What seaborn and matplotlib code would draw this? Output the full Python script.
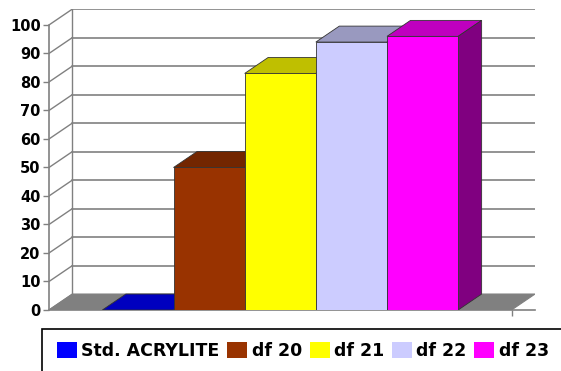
import numpy as np
import pandas as pd
import seaborn as sns
import matplotlib.pyplot as plt
from matplotlib.patches import Polygon, Rectangle, Patch
from matplotlib.colors import to_rgb

# chart data
series = ["Std. ACRYLITE", "df 20", "df 21", "df 22", "df 23"]
values = [0, 50, 83, 94, 96]
colors = ["#0000FF", "#993300", "#FFFF00", "#CCCCFF", "#FF00FF"]
yticks = list(range(0, 101, 10))

data = pd.DataFrame({"series": series, "value": values})

# fake 3d: depth offset (data units) and gap on each side of the bar group
DX = 0.33
DY = 5.6
GAP = 0.75
GRID = "#808080"
EDGE = "#333333"

sns.set_style("white")
plt.rcParams["font.family"] = ["DejaVu Sans"]
plt.rcParams["font.weight"] = "bold"
plt.rcParams["text.color"] = "black"
plt.rcParams["ytick.labelcolor"] = "black"

fig = plt.figure(figsize=(5.61, 3.71), dpi=100)
ax = fig.add_axes([49 / 561, 61 / 371, 486 / 561, 301 / 371])

x0 = -0.5 - GAP
x1 = len(series) - 0.5 + GAP

# floor
ax.add_patch(Polygon([(x0, 0), (x1, 0), (x1 + DX, DY), (x0 + DX, DY)],
                     closed=True, facecolor="#808080", edgecolor=GRID, lw=0.8, zorder=1))
# back wall gridlines and perspective lines from the front axis
for v in yticks[1:]:
    ax.plot([x0 + DX, x1 + DX], [v + DY, v + DY], color=GRID, lw=1.2, zorder=1)
for v in yticks:
    ax.plot([x0, x0 + DX], [v, v + DY], color=GRID, lw=1, zorder=1)
ax.plot([x0 + DX, x0 + DX], [DY, 100 + DY], color=GRID, lw=1, zorder=1)

# front faces
sns.barplot(data=data, x="series", y="value", hue="series", palette=colors,
            width=1.0, saturation=1, legend=False, edgecolor=EDGE, linewidth=0.6, ax=ax)

bars = list(ax.patches)[1:]
for i, bar in enumerate(bars):
    bx, bw, bh = bar.get_x(), bar.get_width(), bar.get_height()
    c = np.array(to_rgb(colors[i]))
    bar.set_zorder(3 + i + 0.5)
    top = Polygon([(bx, bh), (bx + bw, bh), (bx + bw + DX, bh + DY), (bx + DX, bh + DY)],
                  closed=True, facecolor=c * 0.75, edgecolor=EDGE, lw=0.6, zorder=3 + i)
    side = Polygon([(bx + bw, 0), (bx + bw + DX, DY), (bx + bw + DX, bh + DY), (bx + bw, bh)],
                   closed=True, facecolor=c * 0.5, edgecolor=EDGE, lw=0.6, zorder=3 + i)
    ax.add_patch(top)
    ax.add_patch(side)

ax.set_xlim(x0, x1 + DX)
ax.set_ylim(0, 100 + DY)
ax.set_yticks(yticks)
ax.set_yticklabels([str(v) for v in yticks], fontsize=10.5, fontweight="bold", color="black")
ax.set_xticks([x1])
ax.set_xticklabels([""])
ax.set_xlabel("")
ax.set_ylabel("")
ax.tick_params(axis="y", direction="out", length=4, width=1, color=GRID, pad=2, left=True)
ax.tick_params(axis="x", direction="out", length=4.5, width=1, color=GRID, bottom=True)
for s in ["top", "right"]:
    ax.spines[s].set_visible(False)
for s in ["left", "bottom"]:
    ax.spines[s].set_color(GRID)
    ax.spines[s].set_linewidth(1.2)
ax.spines["left"].set_bounds(0, 100)

# legend box running off the page
fig.patches.append(Rectangle((42 / 561, -0.2), 1.0, (371 - 329) / 371 + 0.2,
                             transform=fig.transFigure, fill=False, edgecolor="black", lw=1.2))
handles = [Patch(facecolor=c, edgecolor="none") for c in colors]
fig.legend(handles, series, loc="center left", bbox_to_anchor=(57 / 561, (371 - 351) / 371),
           ncol=5, frameon=False, prop={"size": 12.5, "weight": "bold"}, labelcolor="black",
           handlelength=1.15, handleheight=1.05, handletextpad=0.25, columnspacing=0.45,
           borderpad=0, borderaxespad=0)

plt.savefig("out.png", dpi=100)
plt.close()
